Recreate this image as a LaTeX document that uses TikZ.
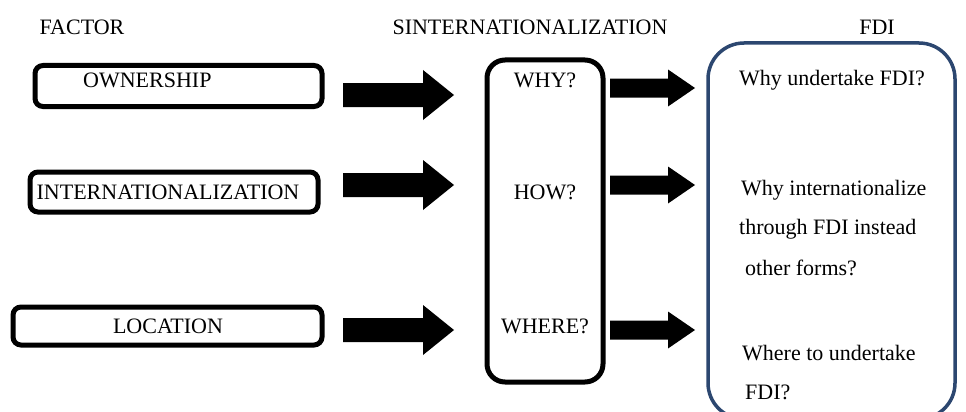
\documentclass[tikz,border=0pt]{standalone}
\usepackage{fontspec}
\setmainfont{Liberation Serif}
\begin{document}
\begin{tikzpicture}[x=1pt,y=-1pt,
  lbl/.style={font=\fontsize{22}{26}\selectfont, inner sep=0pt},
  factorbox/.style={draw=black, line width=5pt, rounded corners=8pt, inner sep=0pt},
  midbox/.style={draw=black, line width=5pt, rounded corners=18pt, inner sep=0pt},
  fdibox/.style={draw=fdiblue, line width=3.5pt, rounded corners=36pt, inner sep=0pt},
  fditext/.style={font=\fontsize{22}{26}\selectfont, inner sep=0pt, anchor=west}
]
\definecolor{fdiblue}{HTML}{2C4770}
\useasboundingbox (0,0) rectangle (966,412);
\begin{scope}
\clip (0,0) rectangle (966,412);
% titles
\node[lbl] (tf) at (82,27) {FACTOR};
\node[lbl] (ts) at (530,27) {SINTERNATIONALIZATION};
\node[lbl] (td) at (877,27) {FDI};
% factor boxes
\node[factorbox, minimum width=287pt, minimum height=41pt] (own) at (178.5,86) {};
\node[lbl, anchor=west] (ownt) at (83,80) {OWNERSHIP};
\node[factorbox, minimum width=288pt, minimum height=40pt] (int) at (174,192) {};
\node[lbl] (intt) at (168,192) {INTERNATIONALIZATION};
\node[factorbox, minimum width=309pt, minimum height=38pt] (loc) at (167.5,326) {};
\node[lbl] (loct) at (168,326) {LOCATION};
% middle box
\node[midbox, minimum width=116pt, minimum height=322pt] (mid) at (545,221) {};
\node[lbl] (why) at (545,80) {WHY?};
\node[lbl] (how) at (545,192) {HOW?};
\node[lbl] (where) at (545,326) {WHERE?};
% fdi box
\node[fdibox, minimum width=247pt, minimum height=376pt] (fdi) at (831.5,231) {};
\node[fditext] (q1) at (739,80) {Why undertake FDI?};
\node[fditext] (q2a) at (741,190) {Why internationalize};
\node[fditext] (q2b) at (739,229) {through FDI instead};
\node[fditext] (q2c) at (745,268) {other forms?};
\node[fditext] (q3a) at (742,353) {Where to undertake};
\node[fditext] (q3b) at (745,392) {FDI?};
% block arrows
\coordinate (la1) at (343,95);
\coordinate (la2) at (343,185);
\coordinate (la3) at (343,330);
\coordinate (ra1) at (610,88);
\coordinate (ra2) at (610,185);
\coordinate (ra3) at (610,330);
\foreach \c in {la1,la2,la3}{
  \fill[black] (\c) ++(0,-12) -- ++(80,0) -- ++(0,-13) -- ++(31,25) -- ++(-31,25) -- ++(0,-13) -- ++(-80,0) -- cycle;
}
\foreach \c in {ra1,ra2,ra3}{
  \fill[black] (\c) ++(0,-9.5) -- ++(58,0) -- ++(0,-9) -- ++(27,18.5) -- ++(-27,18.5) -- ++(0,-9) -- ++(-58,0) -- cycle;
}
\end{scope}
\end{tikzpicture}
\end{document}
